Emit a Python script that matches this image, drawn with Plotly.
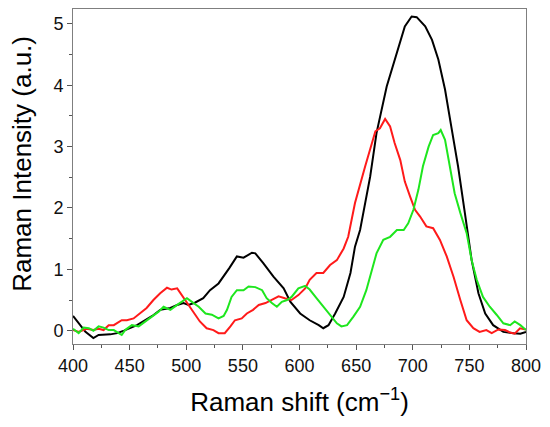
import plotly.graph_objects as go

# spectra (Raman shift in cm-1, intensity in a.u.)
black_x = [400, 405, 411, 418, 422.6, 433, 439, 445, 450, 456.5, 462, 470, 477, 486, 492, 497.6, 502, 508, 515, 521,
           528.5, 533, 538, 544.7, 550.6, 558, 561, 568, 577, 586, 592, 600.6, 609, 617, 621, 625.6, 631.5, 639, 645,
           649, 653.5, 662.4, 668, 677, 686, 693, 699, 703.5, 711, 717, 722.6, 728.5, 734, 740, 746, 752, 758, 764,
           771, 780, 789, 795, 800]
black_y = [0.24, 0.12, -0.02, -0.12, -0.07, -0.06, -0.04, 0.0, 0.04, 0.09, 0.15, 0.24, 0.34, 0.37, 0.42, 0.45, 0.42,
           0.46, 0.53, 0.66, 0.77, 0.88, 1.02, 1.21, 1.19, 1.27, 1.26, 1.10, 0.88, 0.69, 0.47, 0.28, 0.17, 0.09, 0.04,
           0.09, 0.28, 0.55, 0.94, 1.37, 1.64, 2.51, 3.22, 3.98, 4.52, 4.96, 5.12, 5.11, 4.96, 4.74, 4.42, 3.93, 3.33,
           2.68, 1.92, 1.15, 0.61, 0.28, 0.09, -0.02, -0.04, -0.05, -0.02]

red_x = [400, 405, 412, 418, 422.6, 427, 431.5, 436, 443, 447.6, 453.5, 459, 465, 471, 477, 483, 487, 492, 496, 500.6,
         506.5, 512, 518, 524, 528.5, 534, 539, 543, 549, 553.5, 559, 564, 570, 575.6, 581.5, 587, 593, 599, 605,
         609, 615, 621, 627, 633, 639, 643, 649, 658, 667, 671, 675.6, 680, 684, 689, 693, 697.6, 702, 706.5, 712,
         718, 724, 730, 736, 742, 747.6, 753.5, 759, 765, 769.7, 775.6, 781.5, 786, 790, 794.7, 800]
red_y = [0.01, -0.02, 0.03, 0.01, 0.03, 0.01, 0.09, 0.09, 0.17, 0.17, 0.20, 0.28, 0.37, 0.50, 0.61, 0.70, 0.67, 0.69,
         0.58, 0.47, 0.31, 0.15, 0.04, 0.01, -0.04, -0.04, 0.07, 0.17, 0.20, 0.28, 0.34, 0.42, 0.45, 0.50, 0.56, 0.53,
         0.50, 0.58, 0.69, 0.83, 0.94, 0.94, 1.07, 1.15, 1.34, 1.53, 2.08, 2.68, 3.25, 3.30, 3.45, 3.33, 3.06, 2.78,
         2.43, 2.19, 1.97, 1.86, 1.70, 1.67, 1.48, 1.21, 0.88, 0.50, 0.17, 0.04, -0.02, 0.01, -0.04, 0.02, 0.01, -0.03,
         -0.05, 0.04, 0.02]

green_x = [400, 405, 409.4, 414, 418, 422.6, 427, 431.5, 436, 440, 443, 446, 452, 458, 464, 470, 475.6, 480, 486, 492,
           496, 500.6, 505, 511, 517, 522.6, 528.5, 533, 536, 540, 544.7, 550.6, 555, 561, 567, 571, 575.6, 580,
           584.4, 589, 593, 599, 605, 609, 615, 621, 627, 633, 637, 642, 647.6, 653.5, 659, 665, 668, 674, 680, 686,
           692, 696, 700.6, 705, 709, 714, 718, 722.6, 724.7, 728.5, 733, 737, 742, 747.6, 752, 756.5, 762, 768, 774,
           780, 786, 790, 795, 800]
green_y = [0.03, -0.04, 0.05, 0.04, 0.0, 0.07, 0.05, 0.01, 0.01, -0.04, -0.07, 0.01, 0.09, 0.07, 0.15, 0.23, 0.31,
           0.39, 0.34, 0.42, 0.47, 0.53, 0.47, 0.39, 0.28, 0.26, 0.20, 0.24, 0.34, 0.55, 0.66, 0.66, 0.72, 0.71, 0.66,
           0.53, 0.45, 0.39, 0.47, 0.50, 0.55, 0.69, 0.73, 0.67, 0.53, 0.39, 0.26, 0.12, 0.07, 0.09, 0.23, 0.39, 0.66,
           1.04, 1.26, 1.48, 1.53, 1.64, 1.64, 1.75, 1.97, 2.30, 2.68, 3.00, 3.19, 3.22, 3.27, 3.11, 2.68, 2.24, 1.92,
           1.59, 1.15, 0.83, 0.55, 0.39, 0.26, 0.12, 0.09, 0.15, 0.09, 0.01]

x_ticks = [400, 450, 500, 550, 600, 650, 700, 750, 800]
y_ticks = [0, 1, 2, 3, 4, 5]

fig = go.Figure()
fig.add_trace(go.Scatter(x=black_x, y=black_y, mode="lines", line=dict(color="#000000", width=2)))
fig.add_trace(go.Scatter(x=red_x, y=red_y, mode="lines", line=dict(color="#ff1a1a", width=2)))
fig.add_trace(go.Scatter(x=green_x, y=green_y, mode="lines", line=dict(color="#1ee61e", width=2)))

axis_common = dict(showline=True, linecolor="#7f7f7f", linewidth=1, mirror=True, showgrid=False, zeroline=False,
                   ticks="outside", ticklen=5, tickcolor="#555555",
                   tickfont=dict(family="Liberation Sans, Arial", size=18, color="#111111"))

fig.update_layout(
    width=550, height=427,
    margin=dict(l=73, r=24, t=9, b=83),
    paper_bgcolor="white", plot_bgcolor="white",
    showlegend=False,
    xaxis=dict(range=[400, 800], tickvals=x_ticks,
               minor=dict(ticks="outside", ticklen=3, dtick=25, tickcolor="#555555"),
               title=dict(text="Raman shift (cm<sup>−1</sup>)", standoff=18,
                          font=dict(family="Liberation Sans, Arial", size=26, color="#000000")),
               **axis_common),
    yaxis=dict(range=[-0.217, 5.243], tickvals=y_ticks,
               minor=dict(ticks="outside", ticklen=3, dtick=0.5, tickcolor="#555555"),
               **axis_common),
)

# y title placed as an annotation so it sits where the reference has it
fig.add_annotation(text="Raman Intensity (a.u.)", textangle=-90, showarrow=False,
                   xref="paper", yref="paper", x=0, y=0.538, xshift=-51, xanchor="center", yanchor="middle",
                   font=dict(family="Liberation Sans, Arial", size=26, color="#000000"))

fig.write_html("out.html", config={"displayModeBar": False},
               post_script="document.body.style.margin='0';")
